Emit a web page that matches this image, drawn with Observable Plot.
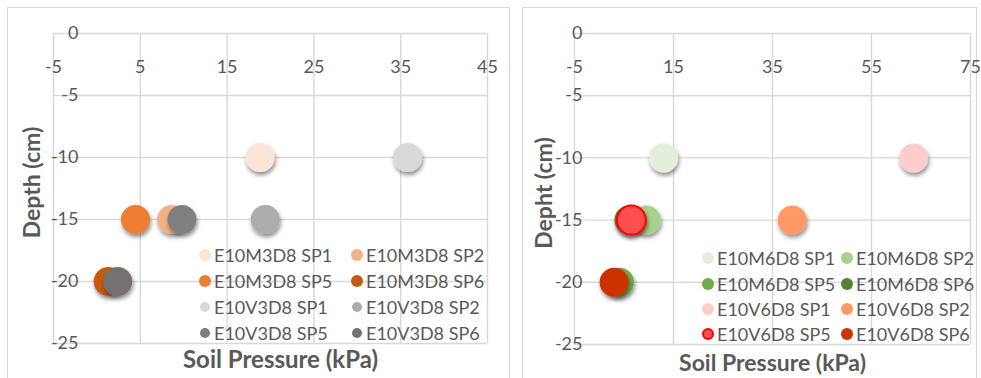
<!DOCTYPE html>
<html>
<head>
<meta charset="utf-8">
<script src="https://cdn.jsdelivr.net/npm/d3@7"></script>
<script src="https://cdn.jsdelivr.net/npm/@observablehq/plot@0.6"></script>
<style>
  body { margin: 0; background: #fff; }
  #wrap { position: relative; width: 981px; height: 378px; overflow: hidden; background: #fff; font-family: Lato, "Open Sans", sans-serif; }
  .box { position: absolute; border: 1.5px solid #d9d9d9; box-sizing: border-box; }
  .panel { position: absolute; top: 0; }
  .leg { position: absolute; display: flex; align-items: center; font-size: 18px; color: #595959; white-space: nowrap; line-height: 1; }
  .sw { position: absolute; border-radius: 50%; box-sizing: border-box; }
</style>
</head>
<body>
<div id="wrap">
  <div class="box" style="left:7px;top:7px;width:503px;height:390px"></div>
  <div class="box" style="left:522px;top:7px;width:455px;height:390px"></div>
  <div id="left" class="panel" style="left:0px"></div>
  <div id="right" class="panel" style="left:510px"></div>
</div>
<script>
// ---------- data ----------
const leftSeries = ["E10M3D8 SP1","E10M3D8 SP2","E10M3D8 SP5","E10M3D8 SP6","E10V3D8 SP1","E10V3D8 SP2","E10V3D8 SP5","E10V3D8 SP6"];
const leftPressure = [18.8, 8.6, 4.45, 1.3, 35.8, 19.4, 9.8, 2.4];
const leftDepth = [-10, -15, -15, -20, -10, -15, -15, -20];
const leftColors = ["#fbe5d6","#f4b183","#ed7d31","#c55a11","#d9d9d9","#aeabab","#7f7f7f","#767171"];

const rightSeries = ["E10M6D8 SP1","E10M6D8 SP2","E10M6D8 SP5","E10M6D8 SP6","E10V6D8 SP1","E10V6D8 SP2","E10V6D8 SP5","E10V6D8 SP6"];
const rightPressure = [13, 9.5, 4.1, 6.0, 63.5, 39, 6.5, 3.0];
const rightDepth = [-10, -15, -20, -15, -10, -15, -15, -20];
const rightColors = ["#e2efda","#a9d18e","#70ad47","#548235","#ffcccc","#ff9966","#ff5050","#cc3300"];
const rightStrokes = [null,null,null,null,null,null,"#ff0000",null];

const leftXTicks = [-5, 5, 15, 25, 35, 45];
const rightXTicks = [-5, 15, 35, 55, 75];
const yTicks = [0, -5, -10, -15, -20, -25];

const xTitle = "Soil Pressure (kPa)";
const leftYTitle = "Depth (cm)";
const rightYTitle = "Depht (cm)";

// ---------- helpers ----------
function makePanel(cfg) {
  const rows = cfg.series.map((s, i) => ({
    series: s, x: cfg.pressure[i], y: cfg.depth[i], fill: cfg.colors[i],
    stroke: (cfg.strokes && cfg.strokes[i]) || "none",
    sw: (cfg.strokes && cfg.strokes[i]) ? 2 : 0
  }));
  const grid = {stroke: "#d9d9d9", strokeOpacity: 1, strokeWidth: 1.4};
  const tickStyle = {fill: "#595959", fontSize: 18};
  const svg = Plot.plot({
    width: cfg.width, height: 378,
    marginLeft: cfg.ml, marginRight: cfg.mr, marginTop: 33, marginBottom: cfg.mb,
    x: {domain: cfg.xDomain, axis: null},
    y: {domain: [-25, 0], axis: null},
    style: {fontFamily: "Lato, 'Open Sans', sans-serif", background: "transparent", overflow: "visible"},
    marks: [
      Plot.gridX(cfg.xTicks, grid),
      Plot.gridY(yTicks, grid),
      Plot.text(cfg.xTicks, {x: d => d, frameAnchor: "top", dy: 27, text: d => String(d), textAnchor: "middle", ...tickStyle}),
      Plot.text(yTicks, {y: d => d, frameAnchor: "left", dx: cfg.yLabDx, text: d => String(d), textAnchor: "end", ...tickStyle}),
      Plot.text([cfg.yTitle], {frameAnchor: "left", rotate: -90, dx: cfg.yTitleDx, dy: cfg.yTitleDy, text: d => d, fill: "#595959", fontSize: cfg.yTitleSize, fontWeight: "bold", textAnchor: "middle", lineAnchor: "middle"}),
      Plot.text([xTitle], {frameAnchor: "bottom", dx: cfg.xTitleDx, dy: cfg.xTitleDy, text: d => d, fill: "#595959", fontSize: cfg.xTitleSize, fontWeight: "bold", textAnchor: "middle", lineAnchor: "middle"}),
      Plot.dot(rows, {x: "x", y: "y", r: 14.5, fill: "fill", stroke: "stroke", strokeWidth: "sw"})
    ]
  });
  // soft drop shadow like the spreadsheet markers
  const s = d3.select(svg);
  const fid = "shadow-" + cfg.id;
  s.insert("defs", ":first-child").html(
    `<filter id="${fid}" x="-50%" y="-50%" width="200%" height="200%">
       <feDropShadow dx="1" dy="3" stdDeviation="2" flood-color="#000" flood-opacity="0.45"/>
     </filter>`);
  s.selectAll("g[aria-label=dot] circle").attr("filter", `url(#${fid})`);
  document.getElementById(cfg.id).appendChild(svg);

  // legend (overlay, 2 columns x 4 rows)
  const wrap = document.getElementById("wrap");
  cfg.series.forEach((name, i) => {
    const col = i % 2, row = Math.floor(i / 2);
    const cx = cfg.legX[col], cy = cfg.legY[row];
    const r = cfg.legR[i];
    const sw = document.createElement("div");
    sw.className = "sw";
    sw.style.left = (cx - r) + "px";
    sw.style.top = (cy - r) + "px";
    sw.style.width = sw.style.height = (2 * r) + "px";
    sw.style.background = cfg.colors[i];
    if (cfg.strokes && cfg.strokes[i]) sw.style.border = "2px solid " + cfg.strokes[i];
    wrap.appendChild(sw);
    const t = document.createElement("div");
    t.className = "leg";
    t.textContent = name;
    t.style.left = (cx + 9) + "px";
    t.style.top = (cy - 9) + "px";
    t.style.height = "18px";
    wrap.appendChild(t);
  });
}

makePanel({
  id: "left", width: 510, ml: 53, mr: 23, mb: 35, xDomain: [-5, 45],
  series: leftSeries, pressure: leftPressure, depth: leftDepth, colors: leftColors,
  xTicks: leftXTicks, yLabDx: 25, yTitle: leftYTitle, yTitleDx: -21, yTitleDy: -6,
  xTitleDx: 10, xTitleDy: 17, xTitleSize: 24, yTitleSize: 23,
  legX: [205, 357], legY: [255, 281, 307, 333], legR: [6,6,6,6,5,5,5,5]
});
makePanel({
  id: "right", width: 471, ml: 64, mr: 11, mb: 34, xDomain: [-5, 75],
  series: rightSeries, pressure: rightPressure, depth: rightDepth, colors: rightColors, strokes: rightStrokes,
  xTicks: rightXTicks, yLabDx: 8, yTitle: rightYTitle, yTitleDx: -30, yTitleDy: 4,
  xTitleDx: 0, xTitleDy: 19, xTitleSize: 23, yTitleSize: 23,
  legX: [708, 847], legY: [258, 284, 309, 334], legR: [6,6,6,6,6,6,6,6]
});
</script>
</body>
</html>
